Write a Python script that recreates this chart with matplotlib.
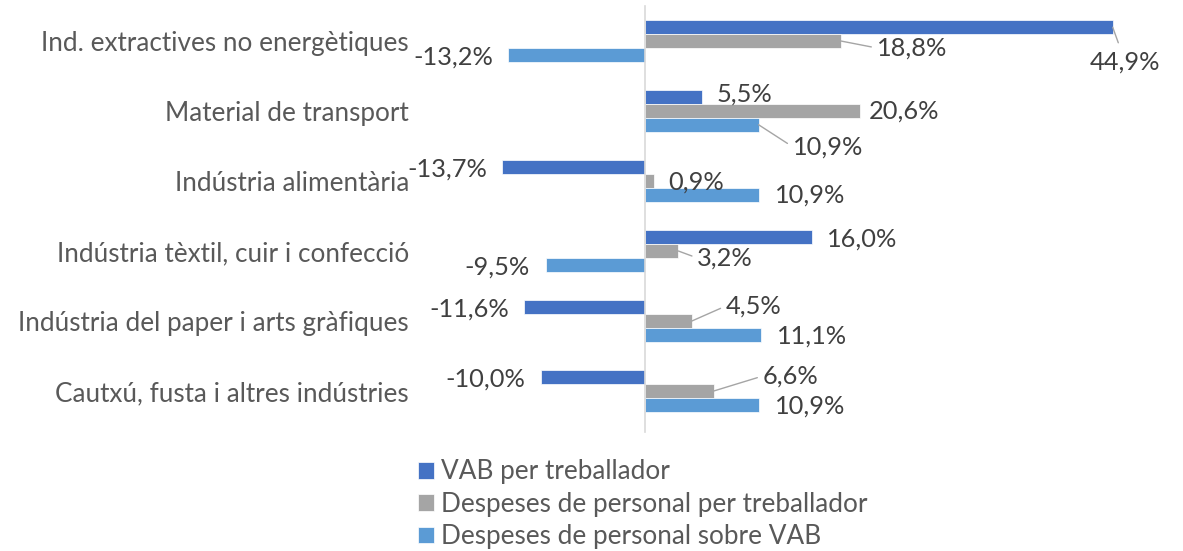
import numpy as np
import matplotlib
matplotlib.use("Agg")
import matplotlib.pyplot as plt

plt.rcParams['font.family'] = ['Lato', 'DejaVu Sans']

categories = [
    "Ind. extractives no energètiques",
    "Material de transport",
    "Indústria alimentària",
    "Indústria tèxtil, cuir i confecció",
    "Indústria del paper i arts gràfiques",
    "Cautxú, fusta i altres indústries",
]
series_names = [
    "VAB per treballador",
    "Despeses de personal per treballador",
    "Despeses de personal sobre VAB",
]
vab_treb = [44.9, 5.5, -13.7, 16.0, -11.6, -10.0]
desp_treb = [18.8, 20.6, 0.9, 3.2, 4.5, 6.6]
desp_vab = [-13.2, 10.9, 10.9, -9.5, 11.1, 10.9]

colors = ["#4472C4", "#A5A5A5", "#5B9BD5"]

# label offsets in pixels (dx, dy down), alignment, leader line
label_pos = [
    [(12, 35, 'center', True), (36, 7, 'left', True), (-14, 2, 'right', False)],
    [(14, -3, 'left', False), (9, 0, 'left', False), (34, 22, 'left', True)],
    [(-15, 2, 'right', False), (14, 1, 'left', False), (16, 0, 'left', False)],
    [(15, 2, 'left', False), (19, 7, 'left', True), (-16, 2, 'right', False)],
    [(-15, 2, 'right', False), (34, -15, 'left', True), (16, 1, 'left', False)],
    [(-16, 2, 'right', False), (49, -15, 'left', True), (16, 1, 'left', False)],
]

FS = 18.8
FS_LAB = 18.3


def fmt(v):
    return f"{v:.1f}%".replace('.', ',')


def main():
    fig = plt.figure(figsize=(11.83, 5.51), dpi=100)
    ax = fig.add_axes([420 / 1183, 1 - 426 / 551, 750 / 1183, 420 / 551])

    y = np.arange(len(categories))
    h = 0.196
    all_series = [vab_treb, desp_treb, desp_vab]
    for i, (vals, col, name) in enumerate(zip(all_series, colors, series_names)):
        ypos = y + (i - 1) * h
        ax.barh(ypos, vals, height=h, color=col, label=name,
                edgecolor='white', linewidth=0.5)
        for r, (v, yy) in enumerate(zip(vals, ypos)):
            dx, dy, ha, leader = label_pos[r][i]
            kw = {}
            if leader:
                if ha == 'left':
                    arr = dict(relpos=(0.0, 0.5), shrinkA=2)
                else:
                    arr = dict(relpos=(0.45, 1.0), shrinkA=4)
                kw['arrowprops'] = dict(arrowstyle='-', color='#A5A5A5',
                                        lw=1, shrinkB=0, **arr)
            ax.annotate(fmt(v), xy=(v, yy), xytext=(dx, -dy),
                        textcoords='offset pixels', ha=ha, va='center',
                        fontsize=FS_LAB, color='#404040', **kw)

    ax.set_xlim(-21.6, 50.4)
    ax.set_ylim(len(categories) - 0.5, -0.5)
    ax.axvline(0, color='#D9D9D9', lw=1.2, ymin=-0.015, ymax=1.0, clip_on=False)
    ax.set_yticks(y)
    ax.set_yticklabels(categories, fontsize=FS, color='#595959')
    ax.tick_params(axis='y', length=0, pad=8)
    ax.set_xticks([])
    for s in ax.spines.values():
        s.set_visible(False)

    fig.legend(loc='upper left', bbox_to_anchor=(408 / 1183, 1 - 449 / 551),
               frameon=False, fontsize=FS, handlelength=0.6, handleheight=0.6,
               handletextpad=0.25, labelspacing=0.28, labelcolor='#595959',
               borderaxespad=0)

    fig.savefig('out.png', dpi=100)


if __name__ == "__main__":
    main()
